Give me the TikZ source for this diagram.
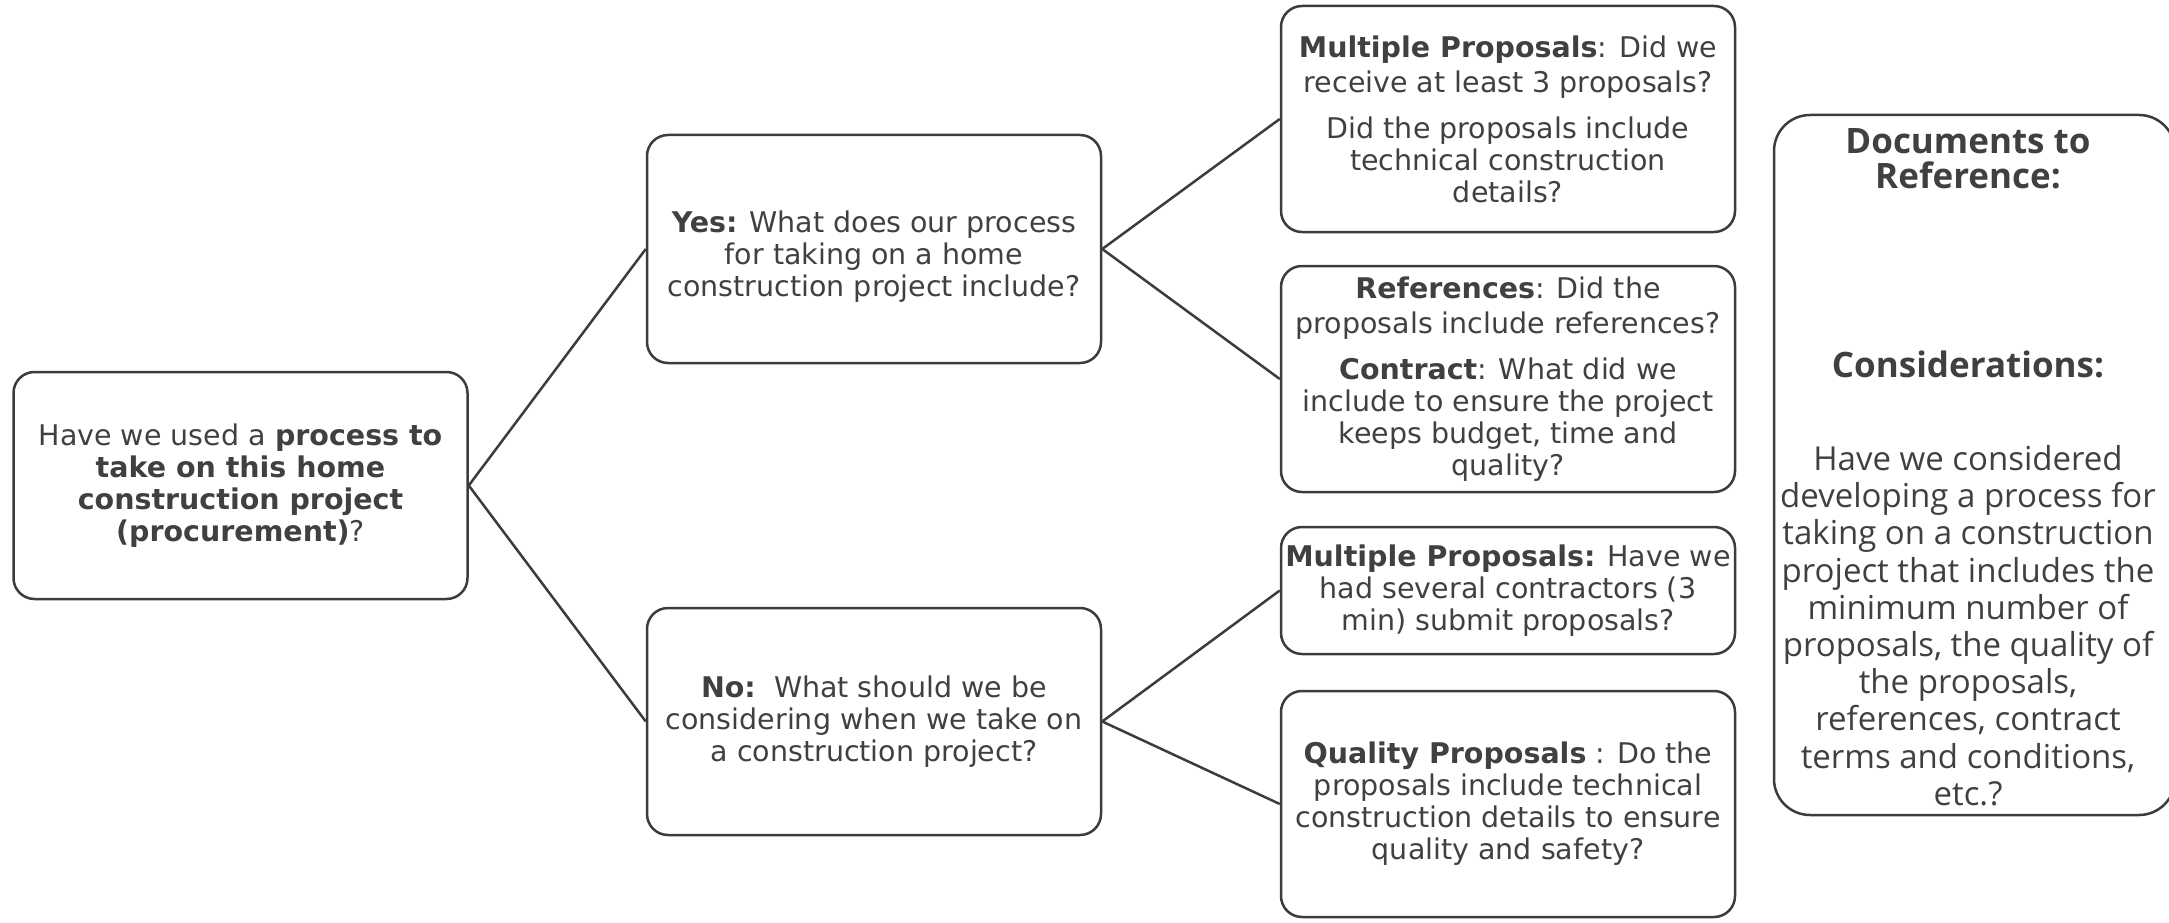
\documentclass[tikz,border=0pt]{standalone}
\usepackage{fontspec}
\setmainfont{DejaVu Sans}
\newfontfamily\rfont{Open Sans}
\definecolor{linec}{HTML}{3C3C3C}
\definecolor{txt}{HTML}{404040}
\tikzset{
  box/.style={draw=linec, line width=2.5pt, rounded corners=21pt, align=center,
    inner sep=0pt, minimum width=454pt, font=\fontsize{28.5}{32}\selectfont, text=txt},
  conn/.style={draw=linec, line width=2.5pt},
  rtext/.style={align=center, inner sep=0pt, text=txt, font=\rfont\fontsize{33}{37.2}\selectfont},
  rhead/.style={align=center, inner sep=0pt, text=txt, font=\rfont\bfseries\fontsize{35}{35}\selectfont}
}
\begin{document}
\begin{tikzpicture}[x=1pt,y=-1pt]
\useasboundingbox (0,0) rectangle (2169,923);
\node[box, minimum height=227pt] (root) at (240.5,485.5)
  {Have we used a \textbf{process to}\\ \textbf{take on this home}\\ \textbf{construction project}\\ \textbf{(procurement)}?};
\node[box, minimum height=228pt] (yes) at (874,249)
  {\rule{0pt}{36pt}\textbf{Yes:} What does our process\\ for taking on a home\\ construction project include?};
\node[box, minimum height=227pt] (no) at (874,721.5)
  {\textbf{No:}\ \ What should we be\\ considering when we take on\\ a construction project?};
\node[box, minimum height=226pt] (mp1) at (1508,119)
  {\textbf{Multiple Proposals}: Did we\\[3pt] receive at least 3 proposals?\\[14pt] Did the proposals include\\ technical construction\\ details?};
\node[box, minimum height=226pt] (ref) at (1508,379)
  {\textbf{References}: Did the\\[3pt] proposals include references?\\[14pt] \textbf{Contract}: What did we\\ include to ensure the project\\ keeps budget, time and\\ quality?};
\node[box, minimum height=127pt] (mp2) at (1508,590.5)
  {\textbf{Multiple Proposals:} Have we\\ had several contractors (3\\ min) submit proposals?};
\node[box, minimum height=226pt] (qual) at (1508,804)
  {\textbf{Quality Proposals} : Do the\\ proposals include technical\\ construction details to ensure\\ quality and safety?};
\node[draw=linec, line width=2.5pt, rounded corners=36pt, minimum width=401pt, minimum height=700pt, inner sep=0pt] (rbox) at (1974.5,465) {};
\node[rhead] (rdoc) at (1968,158.5) {Documents to\\[-0.5pt] Reference:};
\node[rhead] (rcons) at (1968,364) {Considerations:};
\node[rtext] (rbody) at (1968,625.5) {Have we considered\\ developing a process for\\ taking on a construction\\ project that includes the\\ minimum number of\\ proposals, the quality of\\ the proposals,\\ references, contract\\ terms and conditions,\\ etc.?};
\draw[conn] (root.east) -- (yes.west);
\draw[conn] (root.east) -- (no.west);
\draw[conn] (yes.east) -- (mp1.west);
\draw[conn] (yes.east) -- (ref.west);
\draw[conn] (no.east) -- (mp2.west);
\draw[conn] (no.east) -- (qual.west);
\end{tikzpicture}
\end{document}
